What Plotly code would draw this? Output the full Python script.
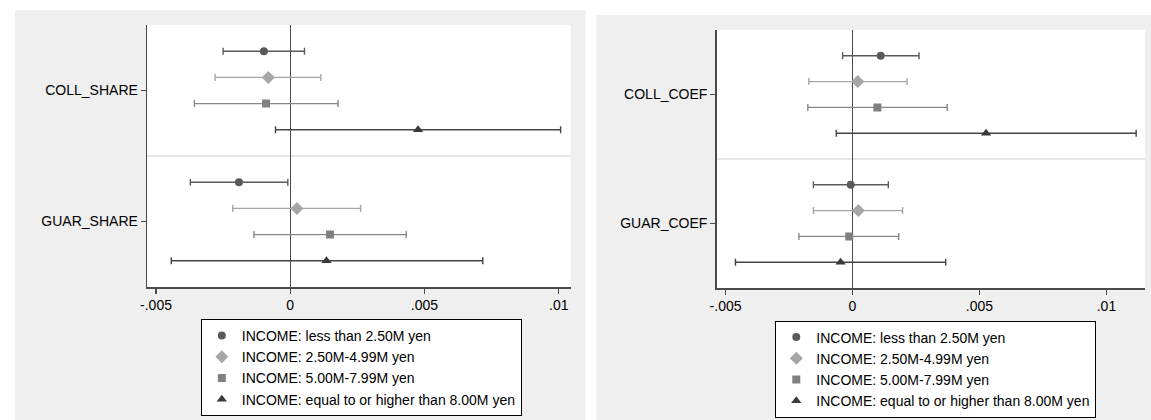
import plotly.graph_objects as go

# ---------------- data ----------------
series_names = [
    "INCOME: less than 2.50M yen",
    "INCOME: 2.50M-4.99M yen",
    "INCOME: 5.00M-7.99M yen",
    "INCOME: equal to or higher than 8.00M yen",
]

left_vars = ["COLL_SHARE", "GUAR_SHARE"]
right_vars = ["COLL_COEF", "GUAR_COEF"]

# left panel: [COLL_SHARE, GUAR_SHARE]
left_est_lt250 = [-0.00098, -0.00191]
left_lo_lt250 = [-0.00250, -0.00372]
left_hi_lt250 = [0.00053, -0.00009]

left_est_250_499 = [-0.00082, 0.00025]
left_lo_250_499 = [-0.00280, -0.00214]
left_hi_250_499 = [0.00114, 0.00262]

left_est_500_799 = [-0.00090, 0.00148]
left_lo_500_799 = [-0.00357, -0.00135]
left_hi_500_799 = [0.00178, 0.00432]

left_est_ge800 = [0.00476, 0.00135]
left_lo_ge800 = [-0.00055, -0.00443]
left_hi_ge800 = [0.01007, 0.00717]

# right panel: [COLL_COEF, GUAR_COEF]
right_est_lt250 = [0.00111, -0.00007]
right_lo_lt250 = [-0.00039, -0.00154]
right_hi_lt250 = [0.00262, 0.00141]

right_est_250_499 = [0.00021, 0.00023]
right_lo_250_499 = [-0.00172, -0.00154]
right_hi_250_499 = [0.00215, 0.00197]

right_est_500_799 = [0.00098, -0.00013]
right_lo_500_799 = [-0.00176, -0.00211]
right_hi_500_799 = [0.00373, 0.00182]

right_est_ge800 = [0.00526, -0.00047]
right_lo_ge800 = [-0.00064, -0.00461]
right_hi_ge800 = [0.01117, 0.00367]

x_tick_vals = [-0.005, 0, 0.005, 0.01]
x_tick_text = ["-.005", "0", ".005", ".01"]

# ---------------- styling ----------------
FONT = "Liberation Sans, Arial, sans-serif"
W, H = 1151, 420
symbols = ["circle", "diamond", "square", "triangle-up"]
marker_colors = ["#5a5a5a", "#a6a6a6", "#808080", "#3a3a3a"]
bar_colors = ["#5a5a5a", "#a6a6a6", "#868686", "#444444"]
marker_sizes = [8, 10, 8, 9]
row_offsets = [0.3, 0.1, -0.1, -0.3]
group_centers = [1.5, 0.5]  # first variable (COLL) on top, second (GUAR) below

left_data = [
    (left_est_lt250, left_lo_lt250, left_hi_lt250),
    (left_est_250_499, left_lo_250_499, left_hi_250_499),
    (left_est_500_799, left_lo_500_799, left_hi_500_799),
    (left_est_ge800, left_lo_ge800, left_hi_ge800),
]
right_data = [
    (right_est_lt250, right_lo_lt250, right_hi_lt250),
    (right_est_250_499, right_lo_250_499, right_hi_250_499),
    (right_est_500_799, right_lo_500_799, right_hi_500_799),
    (right_est_ge800, right_lo_ge800, right_hi_ge800),
]

fig = go.Figure()


def add_panel(data, xaxis, yaxis, legend):
    for i, (est, lo, hi) in enumerate(data):
        ys = [c + row_offsets[i] for c in group_centers]
        fig.add_trace(go.Scatter(
            x=est, y=ys, mode="markers", name=series_names[i],
            xaxis=xaxis, yaxis=yaxis, legend=legend,
            marker=dict(symbol=symbols[i], color=marker_colors[i],
                        size=marker_sizes[i], line=dict(width=0)),
            error_x=dict(type="data", symmetric=False,
                         array=[h - e for h, e in zip(hi, est)],
                         arrayminus=[e - l for e, l in zip(est, lo)],
                         color=bar_colors[i], thickness=1.4, width=3.5),
            hoverinfo="skip",
        ))


add_panel(left_data, "x", "y", "legend")
add_panel(right_data, "x2", "y2", "legend2")

axis_color = "#4a4a4a"
xaxis_common = dict(
    tickmode="array", tickvals=x_tick_vals, ticktext=x_tick_text,
    showgrid=False, zeroline=True, zerolinecolor=axis_color, zerolinewidth=1.5,
    showline=True, linecolor=axis_color, linewidth=1.5,
    ticks="outside", ticklen=5, tickwidth=1.5, tickcolor=axis_color,
    tickfont=dict(family=FONT, size=14, color="black"),
    fixedrange=True,
)
yaxis_common = dict(
    range=[0, 2], tickmode="array", tickvals=group_centers,
    showgrid=False, zeroline=False,
    showline=True, linecolor=axis_color, linewidth=1.5,
    ticks="outside", ticklen=5, tickwidth=1.5, tickcolor=axis_color,
    tickfont=dict(family=FONT, size=14, color="black"),
    minor=dict(tickmode="array", tickvals=[1], showgrid=True,
               gridcolor="#e6e6e6", gridwidth=1.5, ticks=""),
    fixedrange=True,
)

legend_common = dict(
    xanchor="left", yanchor="top",
    bgcolor="white", bordercolor="black", borderwidth=1,
    font=dict(family=FONT, size=14, color="black"), tracegroupgap=0,
)

fig.update_layout(
    width=W, height=H,
    margin=dict(l=0, r=0, t=0, b=0),
    paper_bgcolor="white", plot_bgcolor="rgba(0,0,0,0)",
    font=dict(family=FONT, size=14, color="black"),
    xaxis=dict(domain=[141 / W, 567 / W], range=[-0.00533, 0.01044], anchor="y", **xaxis_common),
    yaxis=dict(domain=[(H - 287) / H, (H - 25) / H], anchor="x", ticktext=left_vars, **yaxis_common),
    xaxis2=dict(domain=[714 / W, 1145 / W], range=[-0.00535, 0.01152], anchor="y2", **xaxis_common),
    yaxis2=dict(domain=[(H - 288) / H, (H - 30) / H], anchor="x2", ticktext=right_vars, **yaxis_common),
    legend=dict(x=195 / W, y=1 - 319 / H, **legend_common),
    legend2=dict(x=773 / W, y=1 - 320.5 / H, **legend_common),
    shapes=[
        dict(type="rect", xref="paper", yref="paper", x0=8 / W, x1=582 / W, y0=0, y1=1 - 10 / H,
             fillcolor="#efefef", line=dict(width=0), layer="below"),
        dict(type="rect", xref="paper", yref="paper", x0=593 / W, x1=1, y0=0, y1=1 - 15 / H,
             fillcolor="#efefef", line=dict(width=0), layer="below"),
        dict(type="rect", xref="x domain", yref="y domain", x0=0, x1=1, y0=0, y1=1,
             fillcolor="white", line=dict(width=0), layer="below"),
        dict(type="rect", xref="x2 domain", yref="y2 domain", x0=0, x1=1, y0=0, y1=1,
             fillcolor="white", line=dict(width=0), layer="below"),
    ],
)

fig.write_html(
    "out.html",
    config={"displayModeBar": False, "staticPlot": True},
    post_script="document.body.style.margin='0';document.body.style.overflow='hidden';",
)
